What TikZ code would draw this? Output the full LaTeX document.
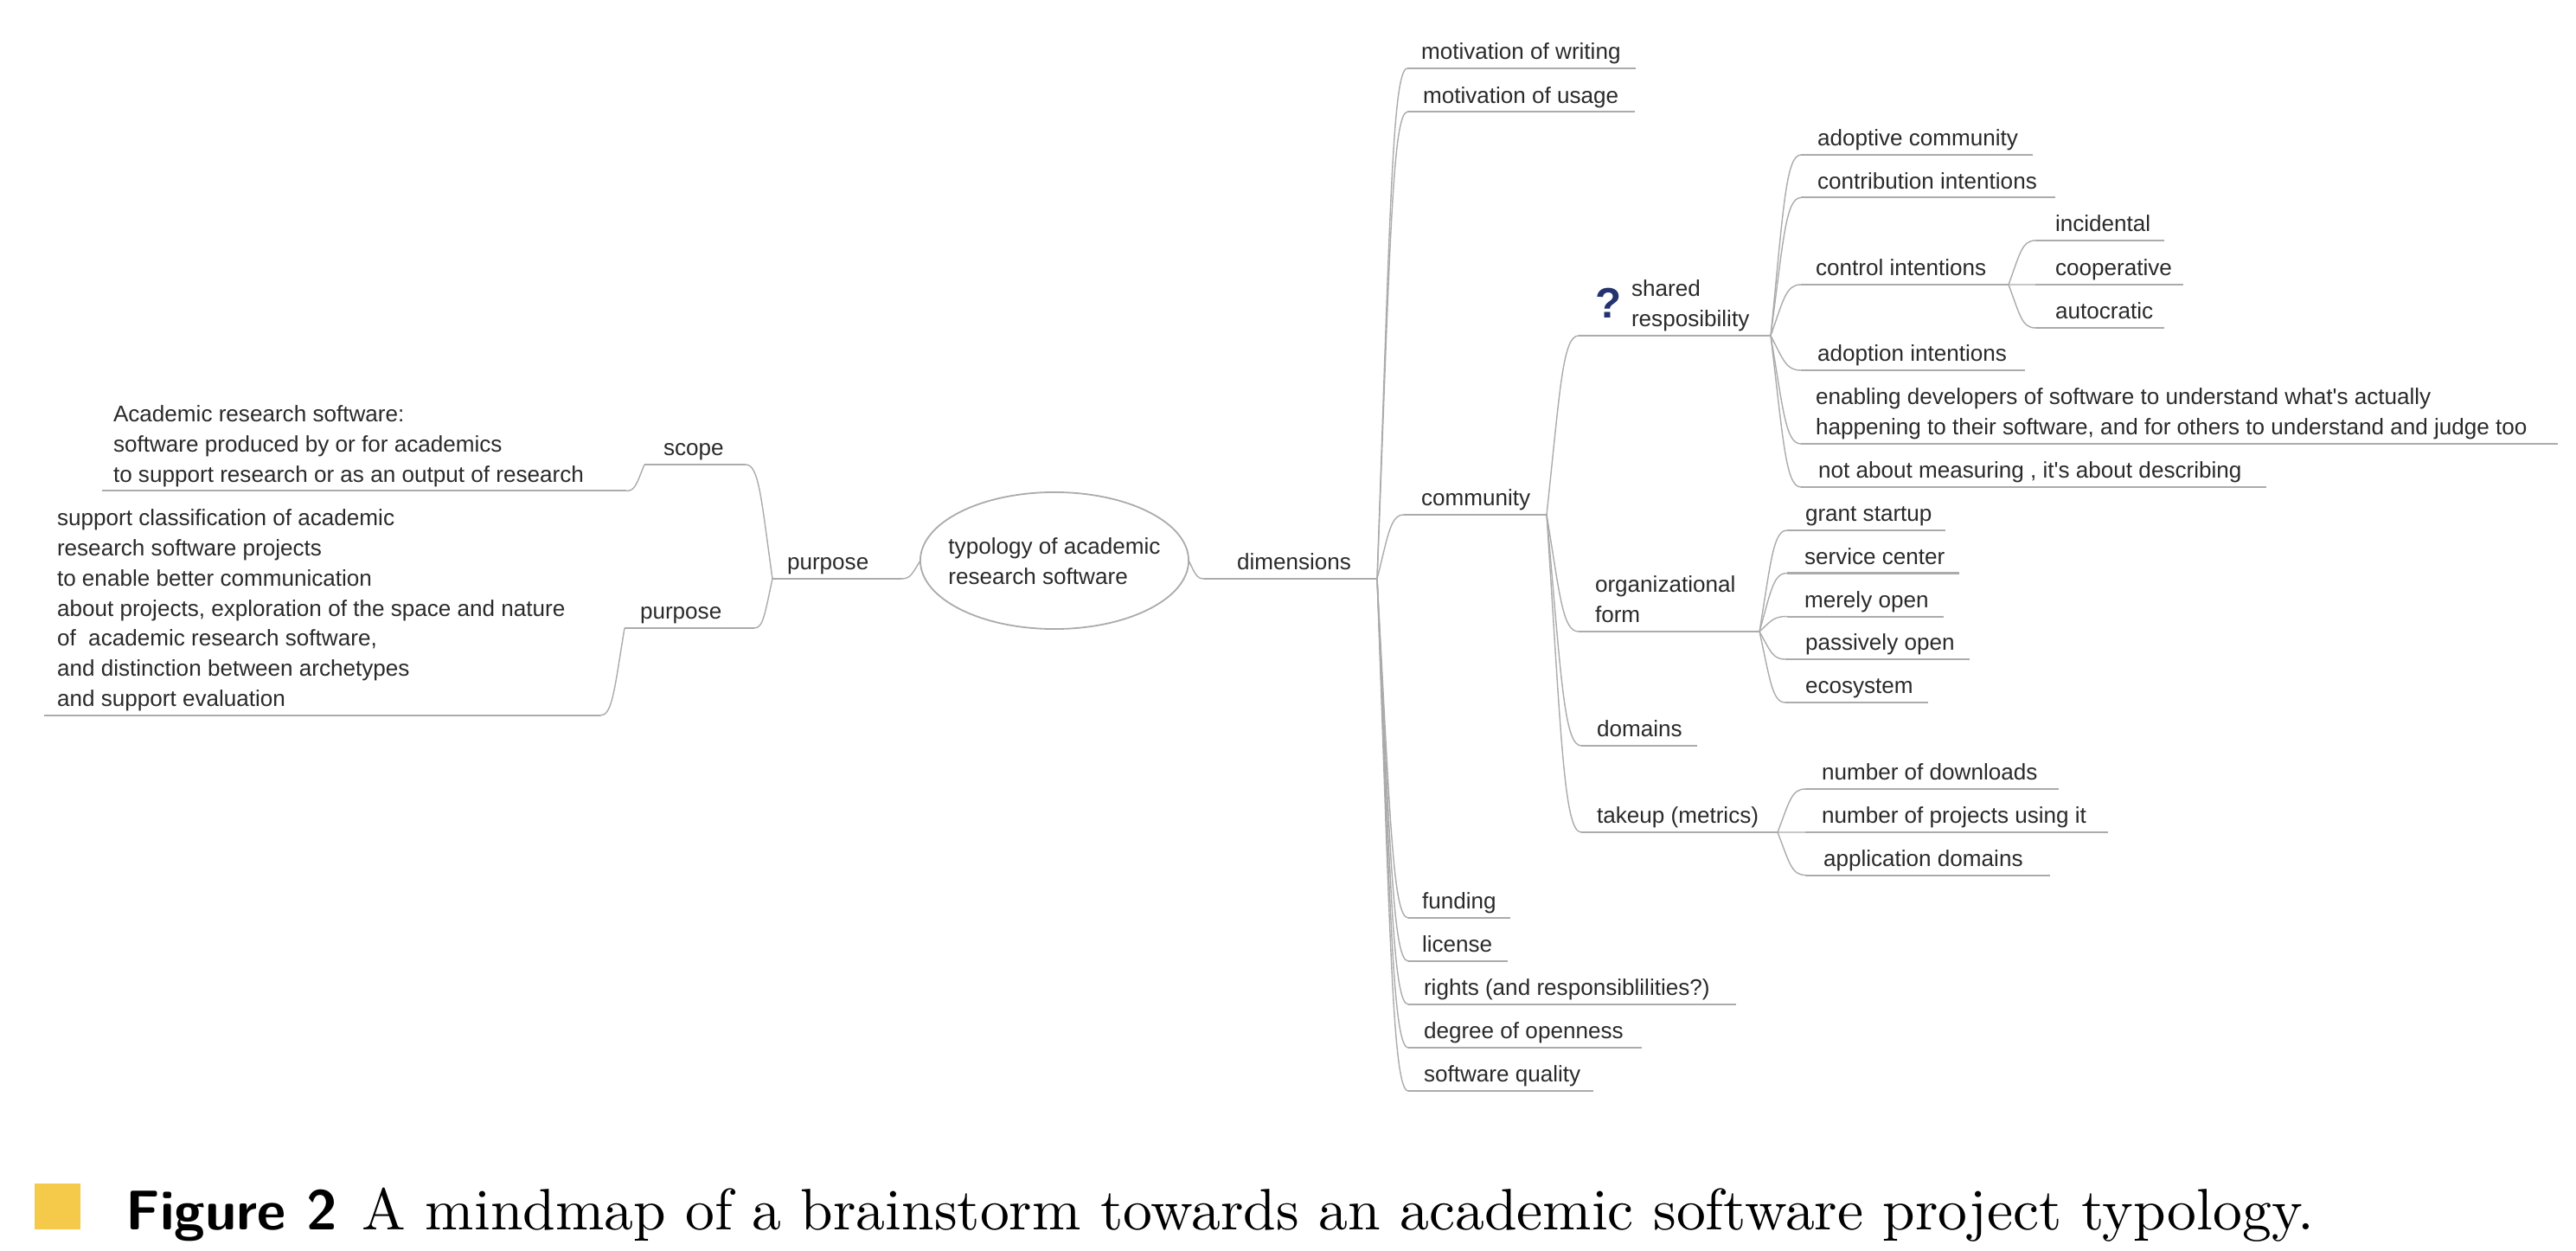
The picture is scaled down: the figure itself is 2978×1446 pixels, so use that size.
\documentclass[tikz,border=0pt]{standalone}
\usepackage{fontspec}
\usetikzlibrary{calc,shapes.geometric}
\newfontfamily\mapfont{Liberation Sans}
\definecolor{maptext}{HTML}{2A2A2A}
\definecolor{mapline}{HTML}{ABABAB}
\definecolor{capbox}{HTML}{F5C94A}
\definecolor{qmark}{HTML}{24336F}
\tikzset{
  topic/.style={inner sep=0pt,outer sep=0pt,anchor=south west,text=maptext,font=\mapfont\fontsize{7.42}{9.9}\selectfont},
  uline/.style={draw=mapline,line width=0.2mm},
  conn/.style={draw=mapline,line width=0.14mm},
  rootnode/.style={ellipse,draw=mapline,line width=0.18mm,inner sep=0pt,outer sep=0pt,minimum width=3.1cm,minimum height=1.58cm,text=maptext,font=\mapfont\fontsize{7.42}{9.9}\selectfont},
}
% name, line start, text start, line end, line y, text
\newcommand{\topic}[6]{%
  \pgfmathsetmacro{\tw}{(#4-#2)*0.01}%
  \pgfmathsetmacro{\ti}{(#3-#2)*0.01}%
  \node[topic] (#1) at (#2,#5) {\makebox[\tw cm][l]{\hspace*{\ti cm}\begin{tabular}[b]{@{}l@{}}#6\end{tabular}}};%
  \draw[uline] (#1.south west) -- (#1.south east);%
}
% from point A to point B
\newcommand{\linkpts}[2]{%
  \coordinate (la) at ($(#1)!.42!(#2)$);%
  \coordinate (lb) at ($(#1)!.7!(#2)$);%
  \coordinate (lc) at ($(#1)!.5!(#2)$);%
  \draw[conn] (#1) .. controls (la |- lb) and (lc |- #2) .. (#2);%
}
\newcommand{\linkr}[2]{\linkpts{#1.south east}{#2.south west}}
\newcommand{\linkl}[2]{\linkpts{#1.south west}{#2.south east}}
\begin{document}
\begin{tikzpicture}[x=0.01cm,y=-0.01cm]
\useasboundingbox (0,0) rectangle (2978,1446);
% root
\node[rootnode] (root) at (1219,648) {\makebox[0pt]{\smash{\raisebox{-2.6pt}{\begin{tabular}[c]{@{}l@{}}typology of academic\\research software\end{tabular}}}}};
% left
\topic{purposeA}{893}{910}{1042}{669}{purpose}
\topic{scope}{745}{767}{862}{537}{scope}
\topic{purposeB}{722}{740}{872}{726}{purpose}
\topic{academic}{118}{131}{724}{567.5}{Academic research software:\\software produced by or for academics\\to support research or as an output of research}
\topic{support}{51}{66}{694}{827}{support classification of academic\\research software projects\\to enable better communication\\about projects, exploration of the space and nature\\of\ \ academic research software,\\and distinction between archetypes\\and support evaluation}
\linkpts{root.west}{purposeA.south east}
\linkl{purposeA}{scope}
\linkl{purposeA}{purposeB}
\linkl{scope}{academic}
\linkl{purposeB}{support}
% right level 1
\topic{dimensions}{1392}{1430}{1592}{669}{dimensions}
\linkpts{root.east}{dimensions.south west}
\topic{mwriting}{1627}{1643}{1891}{79}{motivation of writing}
\topic{musage}{1627}{1645}{1890}{129.5}{motivation of usage}
\topic{community}{1623}{1643}{1788}{595}{community}
\topic{funding}{1628}{1644}{1746}{1061}{funding}
\topic{license}{1628}{1644}{1743}{1111}{license}
\topic{rights}{1628}{1646}{2007}{1161}{rights (and responsiblilities?)}
\topic{degree}{1628}{1646}{1898}{1211}{degree of openness}
\topic{quality}{1628}{1646}{1842}{1261}{software quality}
\foreach \c in {mwriting,musage,community,funding,license,rights,degree,quality}{\linkr{dimensions}{\c}}
% community children
\topic{shared}{1825}{1886}{2047}{388}{shared\\resposibility}
\node[text=qmark,inner sep=0pt,font=\fontspec{Liberation Sans Bold}\fontsize{14}{14}\selectfont] (qm) at (1860,350) {?};
\topic{orgform}{1825}{1844}{2034}{730}{organizational\\form}
\topic{domains}{1828}{1846}{1962}{862}{domains}
\topic{takeup}{1828}{1846}{2055}{962}{takeup (metrics)}
\foreach \c in {shared,orgform,domains,takeup}{\linkr{community}{\c}}
% shared children
\topic{adoptive}{2082}{2101}{2350}{179}{adoptive community}
\topic{contrib}{2082}{2101}{2376}{228.5}{contribution intentions}
\topic{control}{2082}{2099}{2322}{329}{control intentions}
\topic{adoption}{2082}{2101}{2341}{428}{adoption intentions}
\topic{enabling}{2082}{2099}{2957}{513}{enabling developers of software to understand what's actually\\happening to their software, and for others to understand and judge too}
\topic{notabout}{2082}{2102}{2620}{563}{not about measuring , it's about describing}
\foreach \c in {adoptive,contrib,control,adoption,enabling,notabout}{\linkr{shared}{\c}}
% control children
\topic{incidental}{2353}{2376}{2502}{278}{incidental}
\topic{cooperative}{2353}{2376}{2524}{329}{cooperative}
\topic{autocratic}{2353}{2376}{2502}{379}{autocratic}
\foreach \c in {incidental,cooperative,autocratic}{\linkr{control}{\c}}
% organizational children
\topic{grant}{2066}{2087}{2249}{613}{grant startup}
\topic{service}{2066}{2086}{2265}{662.5}{service center}
\topic{merely}{2066}{2086}{2247}{712.5}{merely open}
\topic{passively}{2064}{2087}{2277}{762}{passively open}
\topic{ecosystem}{2064}{2087}{2229}{812}{ecosystem}
\foreach \c in {grant,service,merely,passively,ecosystem}{\linkr{orgform}{\c}}
% takeup children
\topic{ndown}{2087}{2106}{2380}{912}{number of downloads}
\topic{nproj}{2087}{2106}{2437}{962}{number of projects using it}
\topic{appdom}{2087}{2108}{2370}{1011.5}{application domains}
\foreach \c in {ndown,nproj,appdom}{\linkr{takeup}{\c}}
% caption
\fill[capbox] (40,1368) rectangle (93,1421);
\node[inner sep=0pt,anchor=base west,font=\sffamily\bfseries\fontsize{18.4}{20}\selectfont] (figlabel) at (145,1421) {Figure 2};
\node[inner sep=0pt,anchor=base west,font=\fontsize{10}{12}\selectfont] (caption) at (418,1421) {\scalebox{1.923}{A mindmap of a brainstorm towards an academic software project typology.}};
\end{tikzpicture}
\end{document}
